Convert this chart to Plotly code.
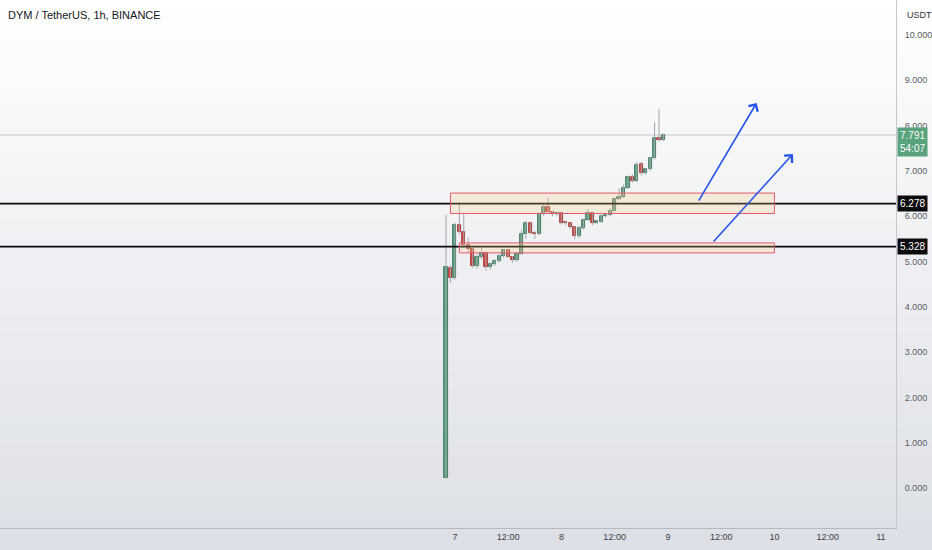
import pandas as pd
import plotly.graph_objects as go

# === DATA ===
first_candle = "2024-02-06 22:00"
opens = [0.22, 4.86, 4.64, 5.81, 5.65, 5.36, 5.27, 4.90, 5.10, 5.19,
         4.88, 4.95, 5.02, 5.12, 5.25, 5.10, 5.03, 5.17, 5.60, 5.85,
         5.63, 5.60, 6.05, 6.20, 6.09, 6.05, 6.07, 5.85, 5.84, 5.76,
         5.56, 5.74, 5.92, 6.07, 5.85, 5.88, 6.00, 6.02, 6.12, 6.37,
         6.42, 6.62, 6.86, 6.78, 7.15, 6.95, 7.04, 7.28, 7.73, 7.68]
highs = [6.03, 4.92, 5.85, 6.30, 6.07, 5.52, 5.30, 5.15, 5.30, 5.22,
         4.98, 5.05, 5.15, 5.28, 5.27, 5.12, 5.20, 5.70, 5.90, 5.88,
         5.68, 6.08, 6.25, 6.40, 6.12, 6.10, 6.10, 5.90, 5.86, 5.78,
         5.78, 5.95, 6.15, 6.10, 5.92, 6.03, 6.05, 6.18, 6.40, 6.62,
         6.70, 6.90, 6.92, 7.20, 7.20, 7.06, 7.30, 8.08, 8.37, 7.82]
lows = [0.22, 4.53, 4.60, 5.60, 5.30, 5.20, 4.86, 4.84, 5.05, 4.80,
        4.82, 4.90, 4.98, 5.08, 5.08, 4.97, 4.99, 5.15, 5.50, 5.60,
        5.50, 5.58, 6.00, 6.05, 6.00, 6.00, 5.82, 5.80, 5.72, 5.50,
        5.52, 5.70, 5.90, 5.80, 5.83, 5.85, 5.97, 6.00, 6.10, 6.35,
        6.40, 6.60, 6.74, 6.75, 6.90, 6.92, 7.00, 7.25, 7.65, 7.66]
closes = [4.88, 4.64, 5.81, 5.65, 5.36, 5.27, 4.90, 5.10, 5.19, 4.88,
          4.95, 5.02, 5.12, 5.25, 5.10, 5.03, 5.17, 5.60, 5.85, 5.63,
          5.60, 6.05, 6.20, 6.09, 6.05, 6.07, 5.85, 5.84, 5.76, 5.56,
          5.74, 5.92, 6.07, 5.85, 5.90, 6.00, 6.02, 6.12, 6.37, 6.42,
          6.62, 6.86, 6.78, 7.13, 6.95, 7.04, 7.28, 7.73, 7.68, 7.79]

last_price = 7.791
countdown = "54:07"
levels = [6.278, 5.328]

# zones drawn on the chart (start, end, bottom, top)
zone_start = ["2024-02-06 23:00", "2024-02-07 01:00"]
zone_end = ["2024-02-10 00:00", "2024-02-10 00:00"]
zone_low = [6.06, 5.19]
zone_high = [6.51, 5.41]

# blue arrows (tail time, tail price, head time, head price)
arrow_tail_x = ["2024-02-09 06:45", "2024-02-09 10:00"]
arrow_tail_y = [6.31, 5.41]
arrow_head_x = ["2024-02-09 20:00", "2024-02-10 04:10"]
arrow_head_y = [8.50, 7.37]

tick_dates = ["2024-02-07", "2024-02-07 12:00", "2024-02-08", "2024-02-08 12:00",
              "2024-02-09", "2024-02-09 12:00", "2024-02-10", "2024-02-10 12:00",
              "2024-02-11"]
tick_labels = ["7", "12:00", "8", "12:00", "9", "12:00", "10", "12:00", "11"]
price_ticks = [0, 1, 2, 3, 4, 5, 6, 7, 8, 9, 10]

times = pd.date_range(first_candle, periods=len(opens), freq="h")
df = pd.DataFrame({"t": times, "o": opens, "h": highs, "l": lows, "c": closes})

FONT = "Liberation Sans Narrow, Arial Narrow, Liberation Sans, Arial"
GREEN = "#58a27c"
GREEN_EDGE = "#2f6a4e"
RED = "#de4a40"
RED_EDGE = "#932a24"
HOUR_MS = 3600 * 1000

fig = go.Figure()

# --- wicks ---
wx, wy = [], []
for _, r in df.iterrows():
    wx += [r["t"], r["t"], None]
    wy += [r["l"], r["h"], None]
fig.add_trace(go.Scatter(x=wx, y=wy, mode="lines",
                         line=dict(color="#a3a6ad", width=1),
                         hoverinfo="skip", showlegend=False))

# --- bodies ---
up = df[df["c"] >= df["o"]]
dn = df[df["c"] < df["o"]]
for part, fill, edge in [(up, GREEN, GREEN_EDGE), (dn, RED, RED_EDGE)]:
    base = part[["o", "c"]].min(axis=1)
    size = (part["c"] - part["o"]).abs().clip(lower=0.03)
    fig.add_trace(go.Bar(x=part["t"], y=size, base=base,
                         width=0.72 * HOUR_MS,
                         marker=dict(color=fill, line=dict(color=edge, width=0.8)),
                         showlegend=False))

# --- background gradient (white to light grey) ---
n_bands = 40
for i in range(n_bands):
    f = i / (n_bands - 1)
    col = "rgb(%d,%d,%d)" % (255 - 34 * f, 255 - 31 * f, 255 - 25 * f)
    y0 = 1.0 - (i / n_bands) * 1.05
    y1 = 1.0 - ((i + 1) / n_bands) * 1.05
    fig.add_shape(type="rect", xref="paper", yref="paper",
                  x0=0, x1=1.05, y0=y1 - 0.002, y1=y0 + 0.002,
                  fillcolor=col, line_width=0, layer="below")

# last price line
fig.add_shape(type="line", xref="paper", yref="y", x0=0, x1=1,
              y0=last_price, y1=last_price,
              line=dict(color="#c5c8ce", width=1), layer="below")

# horizontal levels
for lv in levels:
    fig.add_shape(type="line", xref="paper", yref="y", x0=0, x1=1,
                  y0=lv, y1=lv, line=dict(color="#0b0b0b", width=1.6))

# zones
for xs, xe, lo, hi in zip(zone_start, zone_end, zone_low, zone_high):
    fig.add_shape(type="rect", xref="x", yref="y", x0=xs, x1=xe, y0=lo, y1=hi,
                  fillcolor="rgba(255,205,130,0.24)",
                  line=dict(color="#e4576f", width=1))

# arrows
for tx, ty, hx, hy in zip(arrow_tail_x, arrow_tail_y, arrow_head_x, arrow_head_y):
    fig.add_annotation(x=hx, y=hy, ax=tx, ay=ty, xref="x", yref="y",
                       axref="x", ayref="y", text="", showarrow=True,
                       arrowhead=4, arrowsize=1.3, arrowwidth=1.6,
                       arrowcolor="#2455e8")

# price labels on the right axis
for lv in levels:
    fig.add_annotation(x=1, xref="paper", y=lv, yref="y", xanchor="left",
                       xshift=1, text=f"{lv:.3f}", showarrow=False,
                       bgcolor="#0b0b0b", borderpad=2,
                       font=dict(family=FONT, size=10, color="white"))
fig.add_annotation(x=1, xref="paper", y=last_price, yref="y", xanchor="left",
                   yanchor="top", yshift=8, xshift=1,
                   text=f"{last_price:.3f}<br>{countdown}", showarrow=False,
                   bgcolor=GREEN, borderpad=2, align="left",
                   font=dict(family=FONT, size=10, color="white"))

# title and currency
fig.add_annotation(x=0, y=1, xref="paper", yref="paper", xanchor="left",
                   yanchor="top", xshift=6, yshift=-7, showarrow=False,
                   text="DYM / TetherUS, 1h, BINANCE",
                   font=dict(family=FONT, size=11, color="#131722"))
fig.add_annotation(x=1, y=1, xref="paper", yref="paper", xanchor="left",
                   yanchor="top", xshift=9, yshift=-8, showarrow=False,
                   text="USDT", font=dict(family=FONT, size=9, color="#333"))

fig.update_layout(
    width=932, height=550,
    margin=dict(l=0, r=36, t=0, b=22),
    paper_bgcolor="#ffffff",
    plot_bgcolor="rgba(0,0,0,0)",
    barmode="overlay",
    bargap=0,
    showlegend=False,
    xaxis=dict(
        type="date",
        range=["2024-02-02 17:30", "2024-02-11 03:24"],
        tickvals=tick_dates, ticktext=tick_labels,
        showgrid=False, zeroline=False,
        showline=True, linecolor="#b4b7bf", linewidth=1,
        ticks="", tickfont=dict(family=FONT, size=9, color="#3a3d45"),
        rangeslider=dict(visible=False),
    ),
    yaxis=dict(
        side="right",
        range=[-0.88, 10.77],
        tickvals=price_ticks, tickformat=".3f",
        showgrid=False, zeroline=False,
        showline=True, linecolor="#c4c7ce", linewidth=1,
        ticks="", ticklabelstandoff=6,
        tickfont=dict(family=FONT, size=9, color="#5a5d66"),
    ),
)

# drop the browser's default page margin so the figure fills the window
fig.write_html("out.html", config={"displayModeBar": False},
               post_script="document.body.style.margin='0';")
